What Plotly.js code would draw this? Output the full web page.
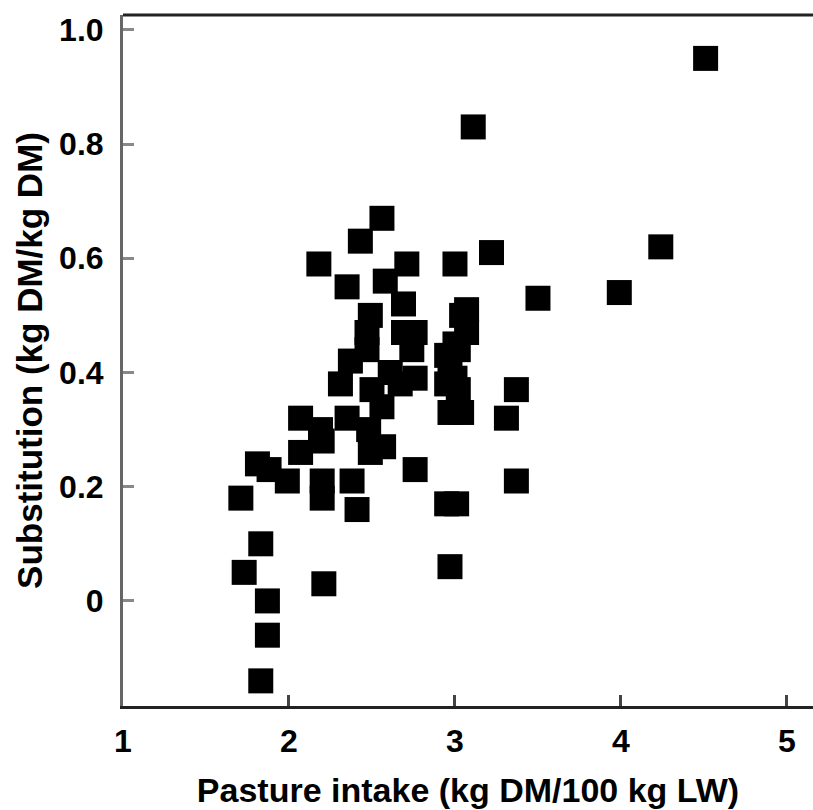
<!DOCTYPE html>
<html>
<head>
<meta charset="utf-8">
<script src="https://cdn.plot.ly/plotly-3.0.1.min.js"></script>
<style>html,body{margin:0;padding:0;background:#fff}#chart{width:813px;height:810px}</style>
</head>
<body>
<div id="chart"></div>
<script>
const pastureIntake = [
  4.51, 3.11, 4.24, 3.99, 3.50, 3.22, 3.00,
  2.56, 2.43, 2.18, 2.71, 2.35, 2.58, 2.69, 2.49,
  2.47, 2.69, 2.76, 2.74, 2.37, 2.47, 2.31, 2.50, 2.61, 2.67, 2.76, 2.56,
  3.07, 3.04, 3.07, 3.00, 3.02, 2.95, 2.97, 3.00, 2.95, 3.02, 2.97, 3.04,
  2.07, 2.19, 2.35, 2.48, 2.20, 2.07, 2.49, 2.57, 1.81, 1.88, 1.99, 1.71,
  2.20, 2.20, 2.38, 2.76, 3.37, 3.31, 3.37, 2.95, 3.01, 2.41,
  1.83, 1.73, 2.21, 2.97, 1.87, 1.87, 1.83
];
const substitution = [
  0.95, 0.83, 0.62, 0.54, 0.53, 0.61, 0.59,
  0.67, 0.63, 0.59, 0.59, 0.55, 0.56, 0.52, 0.50,
  0.47, 0.47, 0.47, 0.44, 0.42, 0.44, 0.38, 0.37, 0.40, 0.38, 0.39, 0.34,
  0.51, 0.50, 0.47, 0.45, 0.44, 0.43, 0.41, 0.39, 0.38, 0.37, 0.33, 0.33,
  0.32, 0.30, 0.32, 0.30, 0.28, 0.26, 0.26, 0.27, 0.24, 0.23, 0.21, 0.18,
  0.21, 0.18, 0.21, 0.23, 0.37, 0.32, 0.21, 0.17, 0.17, 0.16,
  0.10, 0.05, 0.03, 0.06, 0.00, -0.06, -0.14
];
const xTickVals = [1, 2, 3, 4, 5];
const xTickText = ['1', '2', '3', '4', '5'];
const yTickVals = [0, 0.2, 0.4, 0.6, 0.8, 1.0];
const yTickText = ['0', '0.2', '0.4', '0.6', '0.8', '1.0'];

const fontFam = 'Liberation Sans, Arial, sans-serif';

Plotly.newPlot('chart', [{
  x: pastureIntake,
  y: substitution,
  type: 'scatter',
  mode: 'markers',
  marker: {symbol: 'square', size: 25, color: '#000', line: {width: 0}},
  hoverinfo: 'x+y'
}], {
  width: 813, height: 810,
  margin: {l: 123, r: 0, t: 15, b: 104, pad: 0},
  paper_bgcolor: '#fff', plot_bgcolor: '#fff',
  showlegend: false,
  xaxis: {
    range: [1, 5.157],
    tickvals: xTickVals, ticktext: xTickText,
    ticks: 'inside', ticklen: 11, tickwidth: 3, tickcolor: '#444',
    showline: true, linecolor: '#222', linewidth: 3,
    showgrid: false, zeroline: false,
    ticklabelstandoff: 5,
    tickfont: {family: fontFam, size: 32, color: '#000', weight: 'bold'},
    title: {text: 'Pasture intake (kg DM/100 kg LW)', standoff: 20,
      font: {family: fontFam, size: 34, color: '#000', weight: 'bold'}}
  },
  yaxis: {
    range: [-0.184, 1.026],
    tickvals: yTickVals, ticktext: yTickText,
    ticks: 'inside', ticklen: 11, tickwidth: 3, tickcolor: '#888',
    showline: true, linecolor: '#666', linewidth: 3,
    showgrid: false, zeroline: false,
    ticklabelstandoff: 10,
    tickfont: {family: fontFam, size: 32, color: '#000', weight: 'bold'},
    title: {text: 'Substitution (kg DM/kg DM)', standoff: 6,
      font: {family: fontFam, size: 35, color: '#000', weight: 'bold'}}
  },
  shapes: [{
    type: 'line', xref: 'paper', yref: 'paper', x0: 0, x1: 1, y0: 1, y1: 1,
    line: {color: '#222', width: 3}
  }]
}, {displayModeBar: false, staticPlot: true});
</script>
</body>
</html>
